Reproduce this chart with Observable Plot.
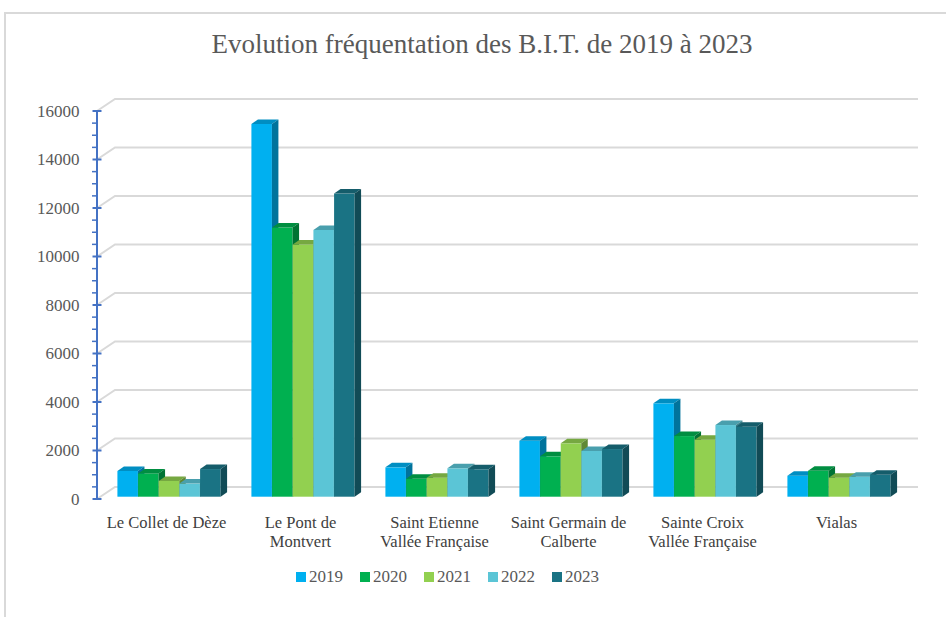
<!DOCTYPE html>
<html>
<head>
<meta charset="utf-8">
<script src="https://cdn.jsdelivr.net/npm/d3@7"></script>
<script src="https://cdn.jsdelivr.net/npm/@observablehq/plot@0.6"></script>
<style>
  html, body { margin: 0; padding: 0; background: #fff; width: 946px; height: 617px; overflow: hidden; }
  body { position: relative; font-family: "Liberation Serif", "DejaVu Serif", serif; }
  #frame { position: absolute; left: 4px; top: 12px; width: 960px; height: 640px;
           border-top: 2px solid #d9d9d9; border-left: 2px solid #d9d9d9; }
  #title { position: absolute; left: 0; top: 28px; width: 964px; text-align: center;
           font-family: "Liberation Serif", serif;
           font-size: 27px; line-height: 32px; color: #595959; }
  #chart { position: absolute; left: 0; top: 80px; }
  #legend { position: absolute; left: 296px; top: 567px; display: flex; align-items: center;
            font-family: "Liberation Serif", serif;
            font-size: 17px; color: #595959; line-height: 20px; }
  .item { display: flex; align-items: center; width: 64px; }
  .sw { width: 10px; height: 10px; margin-right: 3px; }
</style>
</head>
<body>
<div id="frame"></div>
<div id="title">Evolution fréquentation des B.I.T. de 2019 à 2023</div>
<div id="chart"></div>
<div id="legend"></div>
<script>
const categories = ["Le Collet de Dèze", "Le Pont de Montvert", "Saint Etienne Vallée Française",
  "Saint Germain de Calberte", "Sainte Croix Vallée Française", "Vialas"];
const categoryLabels = ["Le Collet de Dèze", "Le Pont de\nMontvert", "Saint Etienne\nVallée Française",
  "Saint Germain de\nCalberte", "Sainte Croix\nVallée Française", "Vialas"];
const years = ["2019", "2020", "2021", "2022", "2023"];
const values2019 = [1060, 15370, 1210, 2310, 3850, 865];
const values2020 = [960, 11100, 740, 1665, 2500, 1070];
const values2021 = [650, 10400, 785, 2200, 2350, 785];
const values2022 = [540, 11000, 1170, 1885, 2955, 825];
const values2023 = [1140, 12500, 1130, 1965, 2885, 905];
const yearColors = ["#00B0F0", "#00B050", "#92D050", "#5BC5D6", "#1A7384"];
const yTicks = [0, 2000, 4000, 6000, 8000, 10000, 12000, 14000, 16000];
const yMinorTicks = d3.range(0, 16001, 500);

const seriesValues = [values2019, values2020, values2021, values2022, values2023];
const data = [];
years.forEach((yr, j) => categories.forEach((c, i) => data.push({cat: c, year: yr, value: seriesValues[j][i]})));

const W = 946, H = 480, ML = 101, MR = 40, MT = 31, MB = 61;
const step = (W - ML - MR) / categories.length;
const barW = 20.67;
const depthX = 6.5, depthY = 4.5;
const axisX = 97;
const backDX = 18, backDY = 12;
const serif = "Liberation Serif";

function gridMark(index, scales) {
  const g = d3.create("svg:g");
  for (const t of yTicks) {
    const y = scales.y(t);
    g.append("path")
      .attr("d", `M${axisX},${y}L${axisX + backDX},${y - backDY}H${W - 28}`)
      .attr("fill", "none").attr("stroke", "#d9d9d9").attr("stroke-width", 2);
  }
  return g.node();
}

function axisMark(index, scales) {
  const g = d3.create("svg:g").attr("stroke", "#4472C4");
  g.append("line").attr("x1", axisX).attr("x2", axisX)
    .attr("y1", scales.y(16000)).attr("y2", scales.y(0) + 1).attr("stroke-width", 2);
  for (const t of yMinorTicks) {
    const y = scales.y(t);
    if (t % 2000 === 0) {
      g.append("line").attr("x1", axisX - 4.5).attr("x2", axisX + 4.5).attr("y1", y).attr("y2", y).attr("stroke-width", 2);
    } else {
      g.append("line").attr("x1", axisX - 5).attr("x2", axisX).attr("y1", y).attr("y2", y).attr("stroke-width", 1.5);
    }
  }
  return g.node();
}

function bar3d(yr, j) {
  const base = yearColors[j];
  const top = d3.color(base).darker(0.6).formatHex();
  const side = d3.color(base).darker(1.2).formatHex();
  const inset = (step - barW) / 2;
  return Plot.barY(data.filter(d => d.year === yr), {
    x: "cat", y: "value", fill: base,
    insetLeft: inset, insetRight: inset,
    dx: (j - 2) * barW, dy: -2.3,
    render(index, scales, values, dimensions, context, next) {
      const g = next(index, scales, values, dimensions, context);
      const ns = "http://www.w3.org/2000/svg";
      for (const r of Array.from(g.querySelectorAll("rect"))) {
        const x = +r.getAttribute("x"), y = +r.getAttribute("y");
        const w = +r.getAttribute("width"), h = +r.getAttribute("height");
        const pt = document.createElementNS(ns, "polygon");
        pt.setAttribute("points", `${x},${y} ${x + w},${y} ${x + w + depthX},${y - depthY} ${x + depthX},${y - depthY}`);
        pt.setAttribute("fill", top);
        const ps = document.createElementNS(ns, "polygon");
        ps.setAttribute("points", `${x + w},${y} ${x + w + depthX},${y - depthY} ${x + w + depthX},${y + h - depthY} ${x + w},${y + h}`);
        ps.setAttribute("fill", side);
        r.parentNode.appendChild(pt);
        r.parentNode.appendChild(ps);
      }
      return g;
    }
  });
}

const chart = Plot.plot({
  width: W, height: H,
  marginLeft: ML, marginRight: MR, marginTop: MT, marginBottom: MB,
  style: {fontFamily: serif, fontSize: "16px", color: "#595959", background: "transparent"},
  x: {domain: categories, padding: 0, axis: null},
  y: {domain: [0, 16000], axis: null},
  marks: [
    gridMark,
    axisMark,
    ...years.map((yr, j) => bar3d(yr, j)),
    Plot.axisY({ticks: yTicks, tickSize: 0, tickPadding: 22, label: null, tickFormat: d => String(d),
      fontSize: 17, fontFamily: serif, fill: "#595959"}),
    Plot.axisX({tickSize: 0, tickPadding: 15, label: null, fontSize: 16.5, fontFamily: serif,
      fill: "#404040", lineHeight: 1.15, dx: -3,
      tickFormat: d => categoryLabels[categories.indexOf(d)]})
  ]
});
document.getElementById("chart").appendChild(chart);

const legend = document.getElementById("legend");
years.forEach((yr, j) => {
  const it = document.createElement("div");
  it.className = "item";
  const sw = document.createElement("span");
  sw.className = "sw";
  sw.style.background = yearColors[j];
  const tx = document.createElement("span");
  tx.textContent = yr;
  it.appendChild(sw); it.appendChild(tx);
  legend.appendChild(it);
});
</script>
</body>
</html>
